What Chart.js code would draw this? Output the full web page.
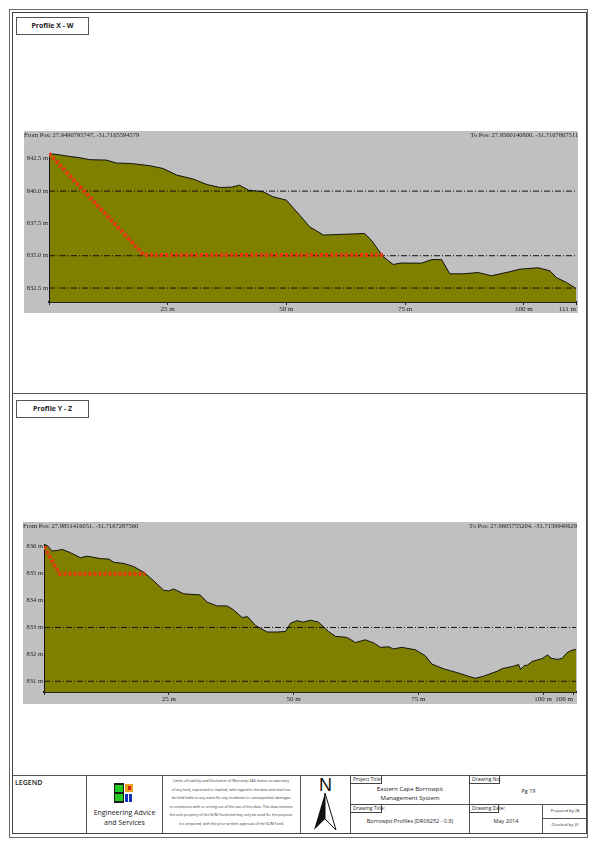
<!DOCTYPE html>
<html>
<head>
<meta charset="utf-8">
<title>Borrowpit Profiles</title>
<script src="https://cdn.jsdelivr.net/npm/chart.js@4"></script>
<style>
body { margin: 0; background: #fff; font-family: "Open Sans", sans-serif; color: #222; }
#page { position: relative; width: 601px; height: 851px; overflow: hidden; }
#page div, #page canvas, #page svg { position: absolute; box-sizing: border-box; }
.line { background: #555; }
.tag { border: 1px solid #444; background: #fff; font-size: 5px; line-height: 7px; padding-left: 2px; white-space: nowrap; }
.txt { text-align: center; white-space: nowrap; }
.pos { font: 6.5px/8px "Liberation Serif", serif; white-space: nowrap; color: #222; }
.disc div { left: 0; width: 138px; text-align: center; font-size: 3.6px; white-space: nowrap; color: #333; }
</style>
</head>
<body>
<div id="page">
  <!-- sheet frame -->
  <div style="left:9px;top:9px;width:579px;height:829px;border:1px solid #666"></div>
  <div style="left:12px;top:12px;width:575px;height:822px;border:1px solid #444"></div>
  <div class="line" style="left:12px;top:393px;width:575px;height:1px"></div>

  <div style="left:16px;top:17px;width:73px;height:18px;border:1px solid #555;background:#fff"></div>
  <div class="txt" style="left:16px;top:21px;width:73px;font-size:7px;font-weight:700;line-height:10px">Profile X - W</div>
  <div style="left:16px;top:400px;width:73px;height:18px;border:1px solid #555;background:#fff"></div>
  <div class="txt" style="left:16px;top:404px;width:73px;font-size:7px;font-weight:700;line-height:10px">Profile Y - Z</div>

  <canvas id="chartXW" width="554" height="182" style="left:24px;top:131px"></canvas>
  <div class="pos" style="left:24px;top:131px">From Pos: 27.9490795747, -31.7165594579</div>
  <div class="pos" style="right:23px;top:131px">To Pos: 27.9560140800, -31.7167867511</div>

  <canvas id="chartYZ" width="554" height="182" style="left:23px;top:522px"></canvas>
  <div class="pos" style="left:23px;top:522px">From Pos: 27.9851416051, -31.7167287560</div>
  <div class="pos" style="right:24px;top:522px">To Pos: 27.9605755204, -31.7159940629</div>

  <!-- title block -->
  <div class="line" style="left:12px;top:775px;width:575px;height:1px"></div>
  <div class="line" style="left:86px;top:775px;width:1px;height:59px"></div>
  <div class="line" style="left:162px;top:775px;width:1px;height:59px"></div>
  <div class="line" style="left:300px;top:775px;width:1px;height:59px"></div>
  <div class="line" style="left:350px;top:775px;width:1px;height:59px"></div>
  <div class="line" style="left:469px;top:775px;width:1px;height:59px"></div>
  <div class="line" style="left:350px;top:804px;width:237px;height:1px"></div>
  <div class="line" style="left:542px;top:804px;width:1px;height:30px"></div>
  <div class="line" style="left:542px;top:818px;width:45px;height:1px"></div>

  <div style="left:15px;top:778px;font-size:7px;font-weight:600;line-height:9px">LEGEND</div>

  <svg style="left:114px;top:783px" width="20" height="20" viewBox="0 0 20 20">
    <rect x="0" y="0" width="10" height="20" fill="#1a1a1a"/>
    <rect x="1" y="2" width="8" height="7" fill="#22cc22"/>
    <rect x="1" y="11" width="8" height="7" fill="#22cc22"/>
    <rect x="11" y="1" width="8" height="8" fill="#e8a020"/>
    <rect x="14" y="3" width="3" height="4" fill="#cc2211"/>
    <rect x="11" y="11" width="3" height="8" fill="#1133bb"/>
    <rect x="15" y="11" width="3" height="8" fill="#1133bb"/>
  </svg>
  <div class="txt" style="left:87px;top:808px;width:75px;font-size:7px;line-height:10px">Engineering Advice<br>and Services</div>

  <div class="disc" style="left:162px;top:0;width:138px;height:0">
    <div style="top:778px">Limits of Liability and Disclaimer of Warranty: EAS makes no warranty</div>
    <div style="top:787px">of any kind, expressed or implied, with regard to the data and shall not</div>
    <div style="top:795px">be held liable in any event for any incidental or consequential damages</div>
    <div style="top:804px">in connection with or arising out of the use of this data. This data remains</div>
    <div style="top:812px">the sole property of the SLIM Fund and may only be used for the purpose</div>
    <div style="top:821px">it is prepared, with the prior written approval of the SLIM Fund</div>
  </div>

  <div class="txt" style="left:301px;top:774px;width:49px;font:18px/22px 'Liberation Sans',sans-serif;color:#111">N</div>
  <svg style="left:313px;top:793px" width="24" height="38" viewBox="0 0 24 38">
    <polygon points="12,0 1,37 12,26" fill="#111"/>
    <polygon points="12,0 23,37 12,26" fill="#fff" stroke="#111" stroke-width="1"/>
  </svg>

  <div class="tag" style="left:350px;top:775px;width:32px;height:9px">Project Title:</div>
  <div class="txt" style="left:351px;top:785px;width:118px;font-size:6px;line-height:9px">Eastern Cape Borrowpit<br>Management System</div>
  <div class="tag" style="left:350px;top:804px;width:32px;height:9px">Drawing Title:</div>
  <div class="txt" style="left:351px;top:817px;width:118px;font-size:5.5px;line-height:8px">Borrowpit Profiles (DR08252 - 0.8)</div>
  <div class="tag" style="left:469px;top:775px;width:31px;height:9px">Drawing No:</div>
  <div class="txt" style="left:470px;top:787px;width:117px;font-size:5.5px;line-height:8px">Pg 19</div>
  <div class="tag" style="left:469px;top:804px;width:30px;height:9px">Drawing Date:</div>
  <div class="txt" style="left:470px;top:817px;width:72px;font-size:5.5px;line-height:8px">May 2014</div>
  <div class="txt" style="left:543px;top:808px;width:44px;font-size:4px;line-height:6px">Prepared by: JB</div>
  <div class="txt" style="left:543px;top:822px;width:44px;font-size:4px;line-height:6px">Checked by: JV</div>
</div>

<script>
// Profile X - W
var xwDist = [0, 2.3, 4.4, 6.5, 8.6, 12.1, 14.2, 17, 18.4, 21.3, 24, 26.9, 30.4, 33.2, 36, 38.5, 40.1, 42, 45.1, 47.2, 50, 52.8, 54.9, 57.8, 61.3, 66.5, 67.9, 70.4, 72.5, 73.9, 78.5, 80.6, 82.7, 84.4, 87.2, 90.4, 93.2, 97, 99.2, 103, 105.5, 106.9, 109, 111];
var xwElev = [842.9, 842.8, 842.68, 842.58, 842.43, 842.4, 842.17, 842.14, 842.09, 841.96, 841.75, 841.24, 840.93, 840.52, 840.28, 840.31, 840.46, 840.08, 839.95, 839.56, 839.3, 838.14, 837.24, 836.6, 836.65, 836.72, 836.2, 834.92, 834.32, 834.43, 834.43, 834.7, 834.7, 833.6, 833.6, 833.7, 833.45, 833.76, 833.96, 834.07, 833.83, 833.3, 832.93, 832.47];
var xwCutDist = [0, 20, 70.4];
var xwCutElev = [842.9, 835.05, 835.05];
var xwYTicks = [832.5, 835, 837.5, 840, 842.5];
var xwXTicks = [0, 25, 50, 75, 100, 111];
var xwGridLines = [832.5, 835, 840];

// Profile Y - Z
var yzDist = [0, 0.7, 1.6, 2.6, 3.6, 5.3, 7.3, 8.6, 11.3, 13, 14, 16, 18, 20, 22, 24, 25, 26, 28, 31.3, 32.7, 34.7, 36.7, 38, 39.7, 40.8, 42.4, 44.7, 46.7, 48.4, 49.4, 50.7, 52, 53.4, 55, 57, 58.4, 60.7, 62.4, 64.4, 66.1, 67.4, 69.1, 70, 71.7, 74.4, 76.4, 77.7, 80.1, 82.8, 84.8, 86.4, 88.1, 90.8, 91.8, 93.1, 94.1, 95.1, 95.5, 96.3, 96.8, 97.8, 98.8, 99.8, 100.9, 101.6, 102.8, 103.8, 104.8, 105.6, 106.6];
var yzElev = [836.09, 836.04, 835.84, 835.86, 835.9, 835.78, 835.59, 835.65, 835.56, 835.54, 835.42, 835.38, 835.26, 835.05, 834.73, 834.38, 834.36, 834.43, 834.25, 834.21, 833.94, 833.8, 833.8, 833.65, 833.37, 833.4, 833.07, 832.83, 832.83, 832.85, 833.16, 833.25, 833.2, 833.27, 833.2, 832.85, 832.67, 832.63, 832.44, 832.54, 832.42, 832.26, 832.28, 832.2, 832.26, 832.17, 831.95, 831.64, 831.46, 831.32, 831.2, 831.11, 831.19, 831.37, 831.47, 831.52, 831.56, 831.62, 831.44, 831.59, 831.59, 831.73, 831.79, 831.84, 831.98, 831.86, 831.81, 831.85, 832.06, 832.14, 832.19];
var yzCutDist = [0, 3.1, 20.3];
var yzCutElev = [836, 835, 835];
var yzYTicks = [831, 832, 833, 834, 835, 836];
var yzXTicks = [0, 25, 50, 75, 100, 106];
var yzGridLines = [831, 833];

function pts(xs, ys) {
    return xs.map(function (x, i) { return {x: x, y: ys[i]}; });
}

function noPadding(axis) {
    axis.paddingTop = 0;
    axis.paddingBottom = 0;
    axis.paddingLeft = 0;
    axis.paddingRight = 0;
}

function makeProfile(id, o) {
    var datasets = [{
        data: pts(o.dist, o.elev),
        borderColor: '#111',
        borderWidth: 1,
        backgroundColor: '#808000',
        fill: 'start',
        pointRadius: 0,
        tension: 0,
        order: 5
    }];
    o.gridLines.forEach(function (v) {
        datasets.push({
            data: [{x: 0, y: v}, {x: o.xMax, y: v}],
            borderColor: '#111',
            borderWidth: 1,
            borderDash: [6, 2, 1, 2],
            pointRadius: 0,
            fill: false,
            order: 3
        });
    });
    // vertical axis only runs up to the start of the profile
    datasets.push({
        data: [{x: 0, y: o.yMin}, {x: 0, y: o.elev[0]}],
        borderColor: '#111',
        borderWidth: 2,
        pointRadius: 0,
        fill: false,
        order: 2
    });
    datasets.push({
        data: pts(o.cutDist, o.cutElev),
        borderColor: '#E8380F',
        borderWidth: 4,
        borderDash: [3, 2],
        pointRadius: 0,
        fill: false,
        order: 1
    });

    new Chart(id, {
        type: 'line',
        plugins: [{
            id: 'panel_bg',
            beforeDraw: function (chart) {
                var ctx = chart.ctx;
                ctx.save();
                ctx.fillStyle = '#C0C0C0';
                ctx.fillRect(0, 0, chart.width, chart.height);
                ctx.restore();
            }
        }],
        data: {datasets: datasets},
        options: {
            responsive: false,
            animation: false,
            layout: {padding: {right: o.padRight}},
            plugins: {legend: {display: false}, title: {display: false}, tooltip: {enabled: false}},
            scales: {
                x: {
                    type: 'linear',
                    min: 0,
                    max: o.xMax,
                    afterBuildTicks: function (axis) {
                        axis.ticks = o.xTicks.map(function (v) { return {value: v}; });
                    },
                    afterFit: function (axis) { axis.height = o.xHeight; noPadding(axis); },
                    border: {color: '#222', width: 2},
                    grid: {drawOnChartArea: false, drawTicks: true, tickLength: 3, tickColor: '#222'},
                    ticks: {
                        autoSkip: false,
                        maxRotation: 0,
                        align: 'inner',
                        padding: 0,
                        color: '#222',
                        font: {family: '"Liberation Serif", serif', size: 7},
                        callback: function (v) { return v === 0 ? '' : v + ' m'; }
                    }
                },
                y: {
                    min: o.yMin,
                    max: o.yMax,
                    afterBuildTicks: function (axis) {
                        axis.ticks = o.yTicks.map(function (v) { return {value: v}; });
                    },
                    afterFit: function (axis) { axis.width = o.yWidth; noPadding(axis); },
                    border: {display: false},
                    grid: {display: false, drawTicks: false},
                    ticks: {
                        autoSkip: false,
                        padding: 1,
                        color: '#222',
                        font: {family: '"Liberation Serif", serif', size: 6.5},
                        callback: function (v) { return v.toFixed(o.yDigits) + ' m'; }
                    }
                }
            }
        }
    });
}

makeProfile('chartXW', {
    dist: xwDist, elev: xwElev, cutDist: xwCutDist, cutElev: xwCutElev,
    xTicks: xwXTicks, yTicks: xwYTicks, gridLines: xwGridLines,
    xMax: 111, yMin: 831.42, yMax: 844.65, yDigits: 1,
    yWidth: 25, xHeight: 11, padRight: 2
});
makeProfile('chartYZ', {
    dist: yzDist, elev: yzElev, cutDist: yzCutDist, cutElev: yzCutElev,
    xTicks: yzXTicks, yTicks: yzYTicks, gridLines: yzGridLines,
    xMax: 106.6, yMin: 830.6, yMax: 836.92, yDigits: 0,
    yWidth: 21, xHeight: 12, padRight: 1
});
</script>
</body>
</html>
